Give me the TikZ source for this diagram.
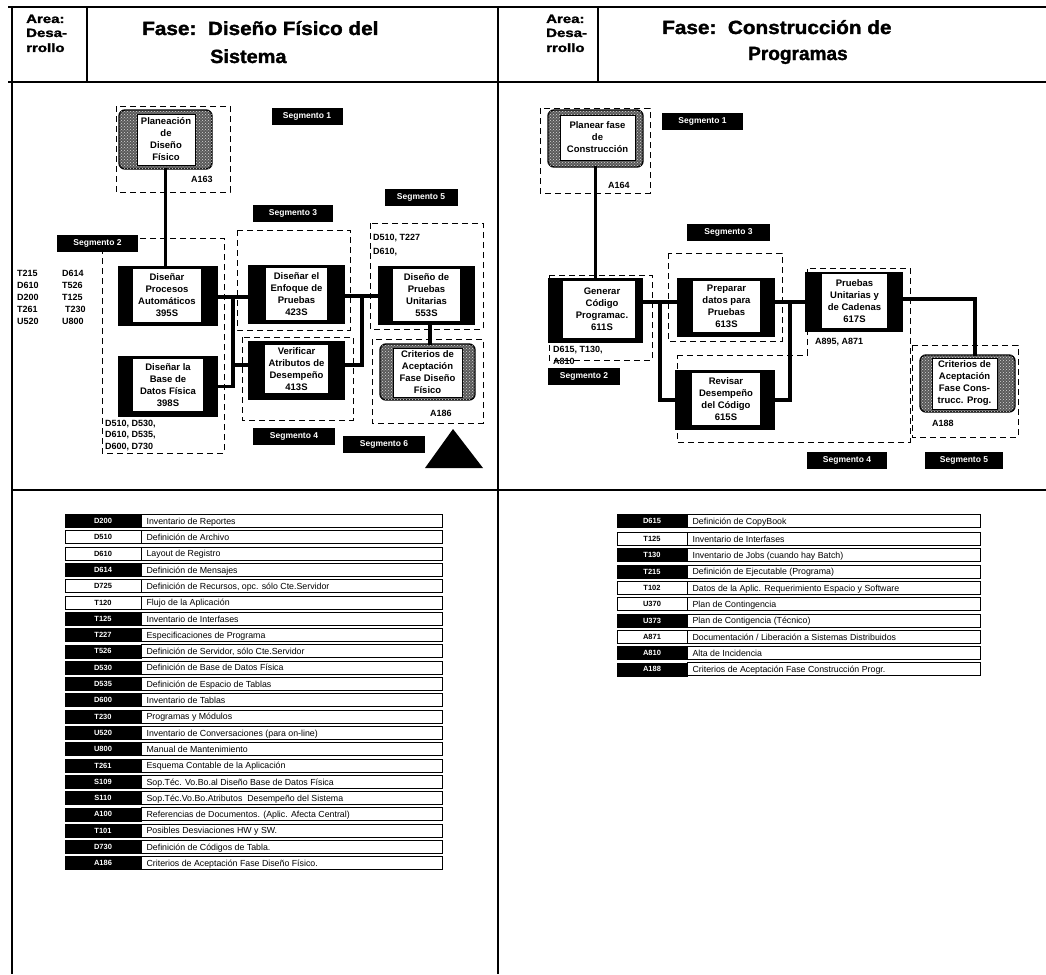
\documentclass[tikz,border=0pt]{standalone}
\usepackage{fontspec}
\setmainfont{Liberation Sans}
\newfontfamily\heavyfont[FakeBold=1.6]{Liberation Sans Bold}
\usepackage{graphicx}
\usetikzlibrary{fit,patterns}
\tikzset{
  frame/.style={line width=1.6pt},
  conn/.style={line width=3.6pt, line cap=rect},
  dbox/.style={line width=1pt, dash pattern=on 6pt off 4pt},
  seglab/.style={fill=black, text=white, font=\fontsize{8.5}{9}\selectfont\bfseries, minimum height=17pt, inner sep=0pt},
  boxtxt/.style={font=\fontsize{9.5}{12}\selectfont\bfseries, align=center, inner sep=0pt},
  lbl/.style={font=\fontsize{9}{12}\selectfont\bfseries, align=left, inner sep=0pt},
  hdr/.style={font=\fontsize{12}{15}\selectfont\heavyfont, inner sep=0pt},
  ttl/.style={font=\fontsize{17}{20}\selectfont\heavyfont, inner sep=0pt},
  codec/.style={draw=black, line width=0.8pt, minimum width=76pt, minimum height=13pt, inner sep=0pt, font=\fontsize{7.5}{8}\selectfont\bfseries},
  codecr/.style={codec, minimum width=70pt},
  descbox/.style={draw=black, line width=0.9pt, fill=white, minimum width=301pt, minimum height=13pt, inner sep=0pt},
  descboxr/.style={descbox, minimum width=293pt},
  desctxt/.style={font=\fontsize{8.8}{9}\selectfont, inner sep=0pt}
}
\newcommand\blkb[6]{%
  \node[fit={(#2)(#3)}, inner sep=0pt, fill=black] (#1) {};
  \node[fit={(#4)(#5)}, inner sep=0pt, fill=white] (#1-in) {};
  \node[boxtxt] at (#1-in.center) {#6};}
\newcommand\texb[6]{%
  \node[fit={(#2)(#3)}, inner sep=0pt, rounded corners=6pt, fill=black!65, draw=black, line width=1.4pt, postaction={pattern=crosshatch dots, pattern color=white!85!black}] (#1) {};
  \node[fit={(#4)(#5)}, inner sep=0pt, fill=white, draw=black, line width=0.5pt] (#1-in) {};
  \node[boxtxt] at (#1-in.center) {#6};}
\begin{document}
\begin{tikzpicture}[x=1pt,y=-1pt]
\useasboundingbox (0,0) rectangle (1046,974);
% ---------- frame ----------
\draw[frame] (8,7) -- (1046,7);
\draw[frame] (8,82) -- (1046,82);
\draw[frame] (12,7) -- (12,974);
\draw[frame] (498,7) -- (498,974);
\draw[frame] (87,7) -- (87,82);
\draw[frame] (598,7) -- (598,82);
\draw[frame] (12,490) -- (1046,490);
% ---------- headers ----------
\node[hdr, anchor=base west] (a1) at (26,23) {\scalebox{1.25}[1]{Area:}};
\node[hdr, anchor=base west] (a2) at (26,37) {\scalebox{1.25}[1]{Desa-}};
\node[hdr, anchor=base west] (a3) at (26,52) {\scalebox{1.25}[1]{rrollo}};
\node[hdr, anchor=base west] (b1) at (546,23) {\scalebox{1.25}[1]{Area:}};
\node[hdr, anchor=base west] (b2) at (546,37) {\scalebox{1.25}[1]{Desa-}};
\node[hdr, anchor=base west] (b3) at (546,52) {\scalebox{1.25}[1]{rrollo}};
\node[ttl, anchor=base west] (t1) at (142,35) {\scalebox{1.22}[1.12]{Fase:\ \ Diseño Físico del}};
\node[ttl, anchor=base west] (t2) at (210,63) {\scalebox{1.17}[1.12]{Sistema}};
\node[ttl, anchor=base west] (t3) at (662,34) {\scalebox{1.22}[1.12]{Fase:\ \ Construcción de}};
\node[ttl, anchor=base west] (t4) at (748,60) {\scalebox{1.12}[1.12]{Programas}};
% ---------- left diagram: dashed areas ----------
\draw[dbox] (116,106) rectangle (230,192);
\draw[dbox] (102,238) rectangle (224,453);
\draw[dbox] (237,230) rectangle (350,330);
\draw[dbox] (242,337) rectangle (353,420);
\draw[dbox] (370,223) rectangle (483,329);
\draw[dbox] (372,339) rectangle (483,423);
% ---------- left diagram: boxes ----------
\texb{pl}{119,110}{212,169}{137,114}{195,165}{Planeación\\de\\Diseño\\Físico}
\blkb{dp}{118,266}{218,326}{133,269}{201,322}{Diseñar\\Procesos\\Automáticos\\395S}
\blkb{ep}{248,265}{345,324}{266,268}{327,320}{Diseñar el\\Enfoque de\\Pruebas\\423S}
\blkb{du}{378,266}{475,325}{393,269}{460,321}{Diseño de\\Pruebas\\Unitarias\\553S}
\blkb{bd}{118,356}{218,417}{133,359}{203,411}{Diseñar la\\Base de\\Datos Física\\398S}
\blkb{va}{248,341}{345,400}{265,345}{328,393}{Verificar\\Atributos de\\Desempeño\\413S}
\texb{cr1}{380,344}{475,400}{393,348}{462,397}{Criterios de\\Aceptación\\Fase Diseño\\Físico}
% ---------- left diagram: connectors ----------
\coordinate (j1) at (233,297);
\coordinate (j1b) at (233,365);
\coordinate (j2) at (362,296);
\coordinate (j2b) at (362,365);
\coordinate (j0) at (430,330);
\draw[conn] (pl.south) -- (pl.south |- dp.north);
\draw[conn] (dp.east |- j1) -- (ep.west |- j1);
\draw[conn] (j1) |- (bd.east);
\draw[conn] (j1b) -- (va.west |- j1b);
\draw[conn] (ep.east |- j2) -- (du.west |- j2);
\draw[conn] (j2) -- (j2b) -- (va.east |- j2b);
\draw[conn] (j0 |- du.south) -- (j0 |- cr1.north);
% ---------- left diagram: labels ----------
\node[seglab, minimum width=71pt] (s1) at (307,116.5) {Segmento 1};
\node[seglab, minimum width=73pt] (s5) at (421,197) {Segmento 5};
\node[seglab, minimum width=80pt] (s3) at (293,213.5) {Segmento 3};
\node[seglab, minimum width=81pt] (s2) at (97.5,243) {Segmento 2};
\node[seglab, minimum width=82pt] (s4) at (294,436) {Segmento 4};
\node[seglab, minimum width=82pt] (s6) at (384,444) {Segmento 6};
\node[lbl, anchor=west] (a163) at (191,179) {A163};
\node[lbl, anchor=west] (a186) at (430,413) {A186};
\node[lbl, anchor=north west] (l5) at (373,234) {D510, T227\\[2pt]D610,};
\node[lbl, anchor=north west] (lc1) at (17,270) {T215\\D610\\D200\\T261\\U520};
\node[lbl, anchor=north west] (lc2) at (62,270) {D614\\T526\\T125\\\hspace{3pt}T230\\U800};
\node[lbl, anchor=north west, font=\fontsize{9}{11.5}\selectfont\bfseries] (l2) at (105,420) {D510, D530,\\D610, D535,\\D600, D730};
\fill (425,468) -- (483,468) -- (453,429) -- cycle;
% ---------- right diagram: dashed areas ----------
\draw[dbox] (540,108) rectangle (650,193);
\draw[dbox] (668,253) rectangle (782,341);
\draw[dbox] (549,275) rectangle (652,360);
\draw[dbox] (677,355) -- (807,355) -- (807,268) -- (910,268) -- (910,442) -- (677,442) -- cycle;
\draw[dbox] (912,345) rectangle (1018,437);
% ---------- right diagram: boxes ----------
\texb{pf}{548,110}{643,167}{560,115}{635,160}{Planear fase\\de\\Construcción}
\blkb{gc}{548,278}{643,343}{563,281}{635,338}{\hspace*{6pt}Generar\\\hspace*{6pt}Código\\\hspace*{6pt}Programac.\\\hspace*{6pt}611S}
\blkb{pd}{677,278}{775,337}{693,281}{760,332}{Preparar\\datos para\\Pruebas\\613S}
\blkb{pu}{805,272}{903,332}{822,274}{887,328}{Pruebas\\Unitarias y\\de Cadenas\\617S}
\blkb{rd}{675,370}{775,430}{692,373}{760,425}{Revisar\\Desempeño\\del Código\\615S}
\texb{cr2}{920,355}{1015,412}{932,358}{997,409}{Criterios de\\Aceptación\\Fase Cons-\\trucc. Prog.}
% ---------- right diagram: connectors ----------
\coordinate (j3) at (660,302);
\coordinate (j4) at (790,302);
\coordinate (j5) at (975,299);
\draw[conn] (pf.south) -- (pf.south |- gc.north);
\draw[conn] (gc.east |- j3) -- (pd.west |- j3);
\draw[conn] (j3) |- (rd.west);
\draw[conn] (pd.east |- j4) -- (pu.west |- j4);
\draw[conn] (j4) |- (rd.east);
\draw[conn] (pu.east |- j5) -- (j5) -- (j5 |- cr2.north);
% ---------- right diagram: labels ----------
\node[seglab, minimum width=81pt] (r1) at (702.5,121) {Segmento 1};
\node[seglab, minimum width=83pt] (r3) at (728.5,232.5) {Segmento 3};
\node[seglab, minimum width=72pt] (r2) at (584,376) {Segmento 2};
\node[seglab, minimum width=80pt] (r4) at (847,460) {Segmento 4};
\node[seglab, minimum width=78pt] (r5) at (964,460) {Segmento 5};
\node[lbl, anchor=west] (a164) at (608,185) {A164};
\node[lbl, anchor=west] (a188) at (932,423) {A188};
\node[lbl, anchor=west] (a895) at (815,342) {A895, A871};
\node[lbl, anchor=north west, font=\fontsize{9}{12}\selectfont\bfseries] (d615) at (553,346) {D615, T130,\\A810};
% ---------- left table ----------
\foreach \c/\d/\f/\t [count=\i from 0] in {
 D200/{Inventario de Reportes}/black/white,
 D510/{Definición de Archivo}/white/black,
 D610/{Layout de Registro}/white/black,
 D614/{Definición de Mensajes}/black/white,
 D725/{Definición de Recursos, opc. sólo Cte.Servidor}/white/black,
 T120/{Flujo de la Aplicación}/white/black,
 T125/{Inventario de Interfases}/black/white,
 T227/{Especificaciones de Programa}/black/white,
 T526/{Definición de Servidor, sólo Cte.Servidor}/black/white,
 D530/{Definición de Base de Datos Física}/black/white,
 D535/{Definición de Espacio de Tablas}/black/white,
 D600/{Inventario de Tablas}/black/white,
 T230/{Programas y Módulos}/black/white,
 U520/{Inventario de Conversaciones (para on-line)}/black/white,
 U800/{Manual de Mantenimiento}/black/white,
 T261/{Esquema Contable de la Aplicación}/black/white,
 S109/{Sop.Téc. Vo.Bo.al Diseño Base de Datos Física}/black/white,
 S110/{Sop.Téc.Vo.Bo.Atributos\ \ Desempeño del Sistema}/black/white,
 A100/{Referencias de Documentos. (Aplic. Afecta Central)}/black/white,
 T101/{Posibles Desviaciones HW y SW.}/black/white,
 D730/{Definición de Códigos de Tabla.}/black/white,
 A186/{Criterios de Aceptación Fase Diseño Físico.}/black/white}{
  \pgfmathsetmacro\yy{521+16.3*\i}
  \node[codec, fill=\f, text=\t] (lc\i) at (103,\yy) {\c};
  \node[descbox, anchor=west] (ld\i) at (lc\i.east) {};
  \node[desctxt, anchor=base west] (lt\i) at ([xshift=5pt, yshift=-3.2pt]ld\i.west) {\d};
}
% ---------- right table ----------
\foreach \c/\d/\f/\t [count=\i from 0] in {
 D615/{Definición de CopyBook}/black/white,
 T125/{Inventario de Interfases}/white/black,
 T130/{Inventario de Jobs (cuando hay Batch)}/black/white,
 T215/{Definición de Ejecutable (Programa)}/black/white,
 T102/{Datos de la Aplic. Requerimiento Espacio y Software}/white/black,
 U370/{Plan de Contingencia}/white/black,
 U373/{Plan de Contigencia (Técnico)}/black/white,
 A871/{Documentación / Liberación a Sistemas Distribuidos}/white/black,
 A810/{Alta de Incidencia}/black/white,
 A188/{Criterios de Aceptación Fase Construcción Progr.}/black/white}{
  \pgfmathsetmacro\yy{\i==0 ? 521 : 522.7+16.3*\i}
  \node[codecr, fill=\f, text=\t] (rc\i) at (652,\yy) {\c};
  \node[descboxr, anchor=west] (rd\i) at (rc\i.east) {};
  \node[desctxt, anchor=base west] (rt\i) at ([xshift=5pt, yshift=-3.2pt]rd\i.west) {\d};
}
\end{tikzpicture}
\end{document}
